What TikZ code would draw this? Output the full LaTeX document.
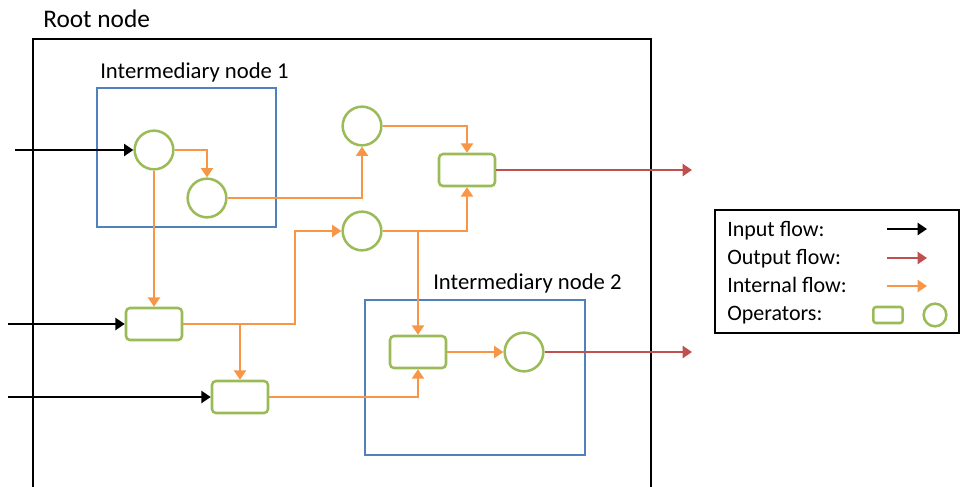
\documentclass[tikz,border=0pt]{standalone}
\usepackage{fontspec}
\setmainfont{Carlito}
\usetikzlibrary{arrows.meta}
\definecolor{opgreen}{HTML}{9BBB59}
\definecolor{intorange}{HTML}{F79646}
\definecolor{boxblue}{HTML}{4F81BD}
\definecolor{outred}{HTML}{C0504D}
\tikzset{
  tip/.style={-{Triangle[length=7pt,width=9pt]}},
  opcirc/.style={circle,draw=opgreen,line width=1.9pt,minimum size=29pt,inner sep=0pt},
  oprect/.style={rectangle,rounded corners=3pt,draw=opgreen,line width=1.9pt,minimum width=42pt,minimum height=24pt,inner sep=0pt},
  inflow/.style={tip,draw=black,line width=1.7pt},
  outflow/.style={tip,draw=outred,line width=1.7pt},
  intflow/.style={tip,draw=intorange,line width=1.7pt},
  groupbox/.style={draw=boxblue,line width=1.8pt},
  rootbox/.style={draw=black,line width=1.8pt},
  lbl/.style={anchor=base west,inner sep=0pt,font=\fontsize{17}{19}\selectfont},
  rootlbl/.style={anchor=base west,inner sep=0pt,font=\fontsize{19}{21}\selectfont},
  leglbl/.style={anchor=base west,inner sep=0pt,font=\fontsize{16.5}{18}\selectfont}
}
\begin{document}
\begin{tikzpicture}[x=0.75pt,y=-0.75pt]
\useasboundingbox (0,0) rectangle (960,486);
% root
\draw[rootbox] (33,490) -- (33,39) -- (651,39) -- (651,490);
\node[rootlbl] (rootlabel) at (43,27) {Root node};
% intermediary boxes
\draw[groupbox] (97,88) rectangle (276,227);
\node[lbl] (lab1) at (100,78) {Intermediary node 1};
\draw[groupbox] (365,300) rectangle (585,455);
\node[lbl] (lab2) at (433,289) {Intermediary node 2};
% operators
\node[opcirc] (c1) at (154,150) {};
\node[opcirc] (c2) at (207,198) {};
\node[opcirc] (c3) at (362,126) {};
\node[opcirc] (c4) at (362,231) {};
\node[oprect] (r1) at (467,170) {};
\node[oprect] (r2) at (154,324) {};
\node[oprect] (r3) at (240,397) {};
\node[oprect] (r4) at (418,352) {};
\node[opcirc] (c5) at (524,352) {};
% external ends
\coordinate (in1) at (15,150);
\coordinate (in2) at (8,324);
\coordinate (in3) at (8,397);
\coordinate (out1) at (692,170);
\coordinate (out2) at (692,352);
\coordinate (k1) at (295,231);
% input flows
\draw[inflow] (in1) -- (c1.west);
\draw[inflow] (in2) -- (r2.west);
\draw[inflow] (in3) -- (r3.west);
% internal flows
\draw[intflow] (c1.east) -| (c2.north);
\draw[intflow] (c1.south) -- (r2.north);
\draw[intflow] (c2.east) -| (c3.south);
\draw[intflow] (c3.east) -| (r1.north);
\draw[intflow] (c4.east) -| (r1.south);
\draw[intflow] (c4.east -| r4.north) -- (r4.north);
\draw[intflow] (r2.east) -| (k1) -- (c4.west);
\draw[intflow] (r2.east -| r3.north) -- (r3.north);
\draw[intflow] (r3.east) -| (r4.south);
\draw[intflow] (r4.east) -- (c5.west);
% output flows
\draw[outflow] (r1.east) -- (out1);
\draw[outflow] (c5.east) -- (out2);
% legend
\draw[line width=1pt] (715,210) rectangle (959,333);
\node[leglbl] (li) at (727,236) {Input flow:};
\node[leglbl] (lo) at (727,264) {Output flow:};
\node[leglbl] (lf) at (727,292) {Internal flow:};
\node[leglbl] (lp) at (727,320) {Operators:};
\coordinate (a1s) at (887,229);
\coordinate (a1e) at (927,229);
\coordinate (a2s) at (887,258);
\coordinate (a2e) at (927,258);
\coordinate (a3s) at (887,286);
\coordinate (a3e) at (927,286);
\draw[inflow] (a1s) -- (a1e);
\draw[outflow] (a2s) -- (a2e);
\draw[intflow] (a3s) -- (a3e);
\node[rectangle,rounded corners=2pt,draw=opgreen,line width=1.9pt,minimum width=22pt,minimum height=12pt,inner sep=0pt] (lr) at (888,315) {};
\node[circle,draw=opgreen,line width=1.9pt,minimum size=17pt,inner sep=0pt] (lc) at (935,315) {};
\end{tikzpicture}
\end{document}
